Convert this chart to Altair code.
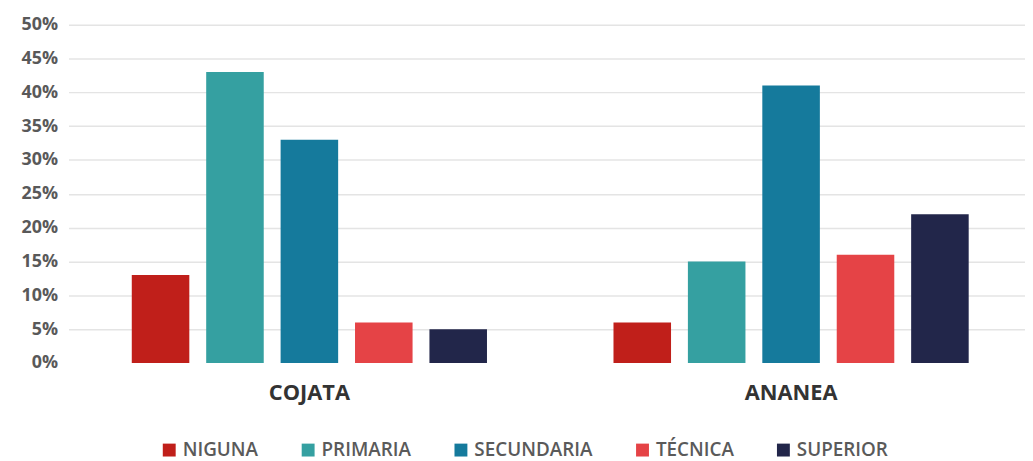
import altair as alt
import pandas as pd

groups = ["COJATA", "ANANEA"]
levels = ["NIGUNA", "PRIMARIA", "SECUNDARIA", "TÉCNICA", "SUPERIOR"]
cojata = [13, 43, 33, 6, 5]
ananea = [6, 15, 41, 16, 22]
colors = ["#C01F1A", "#35A0A1", "#157A9C", "#E54346", "#22264A"]

rows = []
for g, vals in zip(groups, [cojata, ananea]):
    for lvl, v in zip(levels, vals):
        rows.append({"grupo": g, "nivel": lvl, "valor": v / 100})
df = pd.DataFrame(rows)

W, H = 971, 341
band = W / 2
step = 75
pin = 1 - 58 / 75
pout = (band / step - 5 + pin) / 2

chart = alt.Chart(df).mark_bar().encode(
    x=alt.X("grupo:N", sort=groups, title=None,
            scale=alt.Scale(paddingInner=0, paddingOuter=0),
            axis=alt.Axis(labelAngle=0, domain=False, ticks=False, grid=False, labelFontSize=22,
                          labelFontWeight="bold", labelColor="#333333", labelPadding=20,
                          labelFont="Open Sans")),
    xOffset=alt.XOffset("nivel:N", sort=levels,
                        scale=alt.Scale(paddingInner=pin, paddingOuter=pout)),
    y=alt.Y("valor:Q", title=None,
            scale=alt.Scale(domain=[0, 0.5], nice=False),
            axis=alt.Axis(format=".0%", values=[i / 100 for i in range(0, 55, 5)],
                          domain=False, ticks=False, labelFontSize=18, labelColor="#595959",
                          labelFontWeight="bold", labelPadding=11, labelFont="Open Sans",
                          gridColor={"condition": {"test": "datum.value === 0", "value": "transparent"},
                                     "value": "#e4e4e4"},
                          gridWidth=1.5)),
    color=alt.Color("nivel:N", sort=levels, title=None,
                    scale=alt.Scale(domain=levels, range=colors),
                    legend=alt.Legend(orient="none", legendX=92, legendY=419, direction="horizontal",
                                      symbolType="square", symbolSize=169, symbolStrokeWidth=0,
                                      symbolOpacity=1, labelFontSize=19, labelColor="#5a5a5a",
                                      labelFontWeight=600,
                                      labelFont="Open Sans", labelOffset=4, columnPadding=40,
                                      columns=5)),
).properties(
    width=W, height=H,
    autosize=alt.AutoSizeParams(type="none"),
    padding={"left": 61, "top": 15, "right": -7, "bottom": 100},
).configure(font="Open Sans", view=alt.ViewConfig(stroke=None))

chart.save("out.html", embed_options={"renderer": "svg", "actions": False})
